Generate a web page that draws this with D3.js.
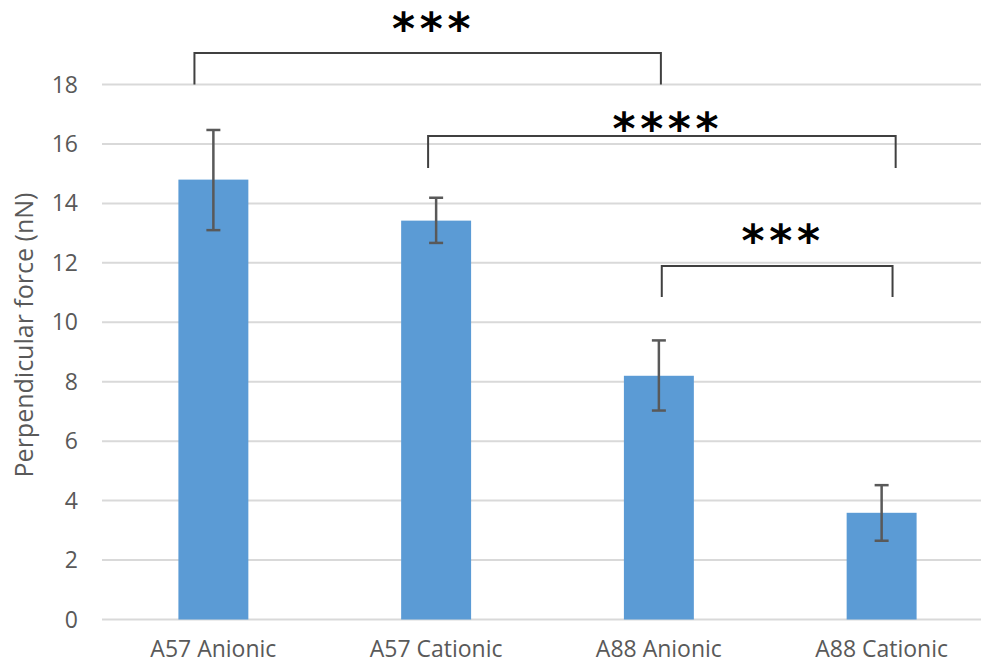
<!DOCTYPE html>
<html>
<head>
<meta charset="utf-8">
<script src="https://cdn.jsdelivr.net/npm/d3@7"></script>
<style>
  html, body { margin: 0; padding: 0; background: #fff; }
  svg { display: block; }
</style>
</head>
<body>
<div id="chart"></div>
<script>
// data
var categories = ['A57 Anionic', 'A57 Cationic', 'A88 Anionic', 'A88 Cationic'];
var means = [14.8, 13.42, 8.2, 3.59];
var errLow = [13.1, 12.67, 7.03, 2.65];
var errHigh = [16.47, 14.19, 9.39, 4.52];
var yTicks = [0, 2, 4, 6, 8, 10, 12, 14, 16, 18];
var yTitle = 'Perpendicular force (nN)';

// significance brackets: from / to category (+ small shift in steps), bracket top, leg bottom, label
var sigFrom = [[0, -0.085], [1, -0.036], [2, 0.013]];
var sigTo = [[2, 0.009], [3, 0.063], [3, 0.049]];
var sigTop = [19.06, 16.27, 11.89];
var sigBottom = [18.0, 15.19, 10.85];
var sigLabelY = [19.97, 16.62, 12.84];
var sigLabels = ['***', '****', '***'];

var width = 981, height = 664;
var plotLeft = 102, plotRight = 993, plotTop = 84.5, plotBottom = 619.5;

var svg = d3.select('#chart').append('svg')
    .attr('width', width)
    .attr('height', height);

var x = d3.scaleBand()
    .domain(categories)
    .range([plotLeft, plotRight])
    .paddingInner(0.686)
    .paddingOuter(0.343);

var y = d3.scaleLinear()
    .domain([0, 18])
    .range([plotBottom, plotTop]);

function center(i, shift) {
  return x(categories[i]) + x.bandwidth() / 2 + (shift || 0) * x.step();
}

// gridlines
svg.append('g')
  .selectAll('line')
    .data(yTicks)
  .enter().append('line')
    .attr('x1', plotLeft)
    .attr('x2', plotRight)
    .attr('y1', function (d) { return y(d); })
    .attr('y2', function (d) { return y(d); })
    .style('stroke', '#d9d9d9')
    .style('stroke-width', 2);

// y tick labels
svg.append('g')
  .selectAll('text')
    .data(yTicks)
  .enter().append('text')
    .attr('x', 78)
    .attr('y', function (d) { return y(d); })
    .attr('dy', '0.35em')
    .style('text-anchor', 'end')
    .style('font-family', '"Open Sans", sans-serif')
    .style('font-size', '23px')
    .style('fill', '#595959')
    .text(function (d) { return d; });

// y title
svg.append('text')
    .attr('transform', 'translate(24,335) rotate(-90)')
    .attr('dy', '0.35em')
    .style('text-anchor', 'middle')
    .style('font-family', '"Open Sans", sans-serif')
    .style('font-size', '25px')
    .style('fill', '#595959')
    .text(yTitle);

// bars
svg.append('g')
  .selectAll('rect')
    .data(means)
  .enter().append('rect')
    .attr('x', function (d, i) { return x(categories[i]); })
    .attr('y', function (d) { return y(d); })
    .attr('width', x.bandwidth())
    .attr('height', function (d) { return y(0) - y(d); })
    .style('fill', '#5b9bd5');

// error bars
var err = svg.append('g')
    .style('stroke', '#595959')
    .style('stroke-width', 2.5)
    .style('fill', 'none');
categories.forEach(function (c, i) {
  var cx = center(i);
  err.append('line')
      .attr('x1', cx).attr('x2', cx)
      .attr('y1', y(errLow[i])).attr('y2', y(errHigh[i]));
  err.append('line')
      .attr('x1', cx - 7).attr('x2', cx + 7)
      .attr('y1', y(errLow[i])).attr('y2', y(errLow[i]));
  err.append('line')
      .attr('x1', cx - 7).attr('x2', cx + 7)
      .attr('y1', y(errHigh[i])).attr('y2', y(errHigh[i]));
});

// x labels
svg.append('g')
  .selectAll('text')
    .data(categories)
  .enter().append('text')
    .attr('x', function (d, i) { return center(i); })
    .attr('y', 657)
    .style('text-anchor', 'middle')
    .style('font-family', '"Open Sans", sans-serif')
    .style('font-size', '23px')
    .style('fill', '#595959')
    .text(function (d) { return d; });

// significance brackets
var sig = svg.append('g');
sigLabels.forEach(function (lab, k) {
  var x1 = center(sigFrom[k][0], sigFrom[k][1]);
  var x2 = center(sigTo[k][0], sigTo[k][1]);
  sig.append('path')
      .attr('d', 'M' + x1 + ',' + y(sigBottom[k]) +
                 'V' + y(sigTop[k]) +
                 'H' + x2 +
                 'V' + y(sigBottom[k]))
      .style('fill', 'none')
      .style('stroke', '#404040')
      .style('stroke-width', 2);
  sig.append('text')
      .attr('x', (x1 + x2) / 2 + 6)
      .attr('y', y(sigLabelY[k]))
      .attr('dy', '0.42em')
      .style('text-anchor', 'middle')
      .style('font-family', '"DejaVu Sans", sans-serif')
      .style('font-weight', 'bold')
      .style('font-size', '44px')
      .style('letter-spacing', '4.7px')
      .style('fill', '#000')
      .text(lab);
});
</script>
</body>
</html>
